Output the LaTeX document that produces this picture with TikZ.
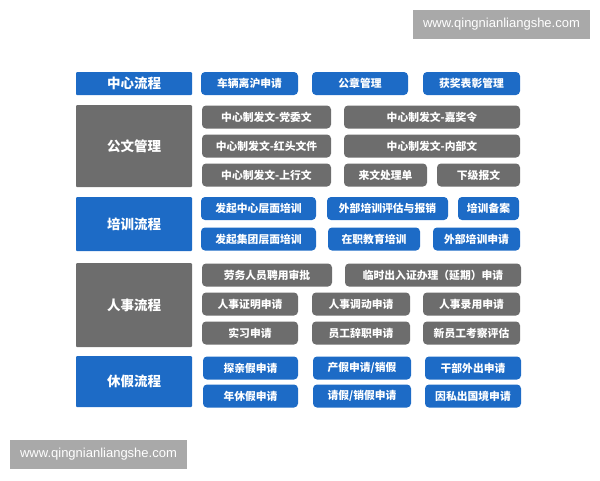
\documentclass[tikz,border=0pt]{standalone}
\usepackage{fontspec}
\newfontfamily\cjk{Noto Sans CJK SC}
\newfontfamily\wmfont{Liberation Sans}
\usetikzlibrary{positioning}
\definecolor{flowblue}{HTML}{1D6BC6}
\definecolor{flowgray}{HTML}{6D6D6D}
\definecolor{markgray}{HTML}{A9A9A9}

\begin{document}
\begin{tikzpicture} [x=1pt,y=-1pt,
  head/.style={fill=#1,text=white,rounded corners=1pt,minimum width=116pt,
    inner sep=0pt,font=\cjk\bfseries\fontsize{13.5}{13.5}\selectfont},
  item/.style={fill=#1,text=white,rounded corners=4pt,minimum height=23pt,
    inner sep=0pt,font=\cjk\bfseries\fontsize{10.8}{10.8}\selectfont},
  wmbox/.style={fill=markgray,text=white,minimum width=177pt,minimum height=29pt,
    inner sep=0pt,font=\wmfont\fontsize{13}{13}\selectfont}]
\useasboundingbox (0,0) rectangle (600,480);

% watermarks
\node[wmbox] (wmtop) at (501.5,24.5) {www.qingnianliangshe.com};
\node[wmbox] (wmbot) at (98.5,454.5) {www.qingnianliangshe.com};

% 中心流程
\node[head=flowblue,minimum height=23pt] (center) at (134,83.5) {中心流程};
\node[item=flowblue,minimum width=97pt] (car) at (249.5,83.5) {车辆离沪申请};
\node[item=flowblue,minimum width=96pt] (seal) at (360,83.5) {公章管理};
\node[item=flowblue,minimum width=97pt] (award) at (471.5,83.5) {获奖表彰管理};

% 公文管理
\node[head=flowgray,minimum height=82pt] (doc) at (134,146) {公文管理};
\node[item=flowgray,minimum width=129pt] (party) at (266.5,117) {中心制发文-党委文};
\node[item=flowgray,minimum width=176pt] (praise) at (432,117) {中心制发文-嘉奖令};
\node[item=flowgray,minimum width=129pt] (redhead) at (266.5,146) {中心制发文-红头文件};
\node[item=flowgray,minimum width=176pt] (inner) at (432,146) {中心制发文-内部文};
\node[item=flowgray,minimum width=129pt] (upward) at (266.5,175) {中心制发文-上行文};
\node[item=flowgray,minimum width=83pt] (incoming) at (385.5,175) {来文处理单};
\node[item=flowgray,minimum width=83pt] (lower) at (478.5,175) {下级报文};

% 培训流程
\node[head=flowblue,minimum height=54pt] (train) at (134,224) {培训流程};
\node[item=flowblue,minimum width=115pt] (trcenter) at (258.5,208.5) {发起中心层面培训};
\node[item=flowblue,minimum width=121pt] (trassess) at (387.5,208.5) {外部培训评估与报销};
\node[item=flowblue,minimum width=61pt] (trrecord) at (488.5,208.5) {培训备案};
\node[item=flowblue,minimum width=115pt] (trgroup) at (258.5,239) {发起集团层面培训};
\node[item=flowblue,minimum width=92pt] (trjob) at (374,239) {在职教育培训};
\node[item=flowblue,minimum width=87pt] (trapply) at (476.5,239) {外部培训申请};

% 人事流程
\node[head=flowgray,minimum height=84pt] (hr) at (134,305) {人事流程};
\node[item=flowgray,minimum width=130pt] (labor) at (267,275) {劳务人员聘用审批};
\node[item=flowgray,minimum width=176pt] (pass) at (433,275) {临时出入证办理（延期）申请};
\node[item=flowgray,minimum width=96pt] (proof) at (250,304) {人事证明申请};
\node[item=flowgray,minimum width=98pt] (transfer) at (361,304) {人事调动申请};
\node[item=flowgray,minimum width=97pt] (hire) at (471.5,304) {人事录用申请};
\node[item=flowgray,minimum width=96pt] (intern) at (250,333) {实习申请};
\node[item=flowgray,minimum width=98pt] (resign) at (361,333) {员工辞职申请};
\node[item=flowgray,minimum width=97pt] (review) at (471.5,333) {新员工考察评估};

% 休假流程
\node[head=flowblue,minimum height=51pt] (leave) at (134,381.5) {休假流程};
\node[item=flowblue,minimum width=95pt] (family) at (250.5,368) {探亲假申请};
\node[item=flowblue,minimum width=98pt] (maternity) at (362,368) {产假申请/销假};
\node[item=flowblue,minimum width=96pt] (cadre) at (473,368) {干部外出申请};
\node[item=flowblue,minimum width=95pt] (annual) at (250.5,396) {年休假申请};
\node[item=flowblue,minimum width=98pt] (askleave) at (362,396) {请假/销假申请};
\node[item=flowblue,minimum width=96pt] (abroad) at (473,396) {因私出国境申请};
\end{tikzpicture}
\end{document}
